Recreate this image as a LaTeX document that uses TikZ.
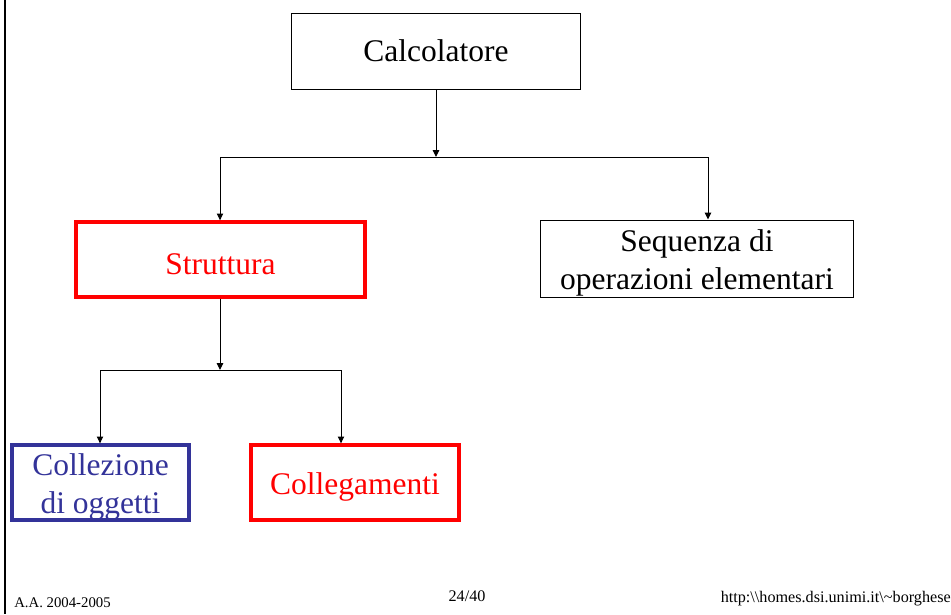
\documentclass[tikz,border=0pt]{standalone}
\usepackage{fontspec}
\setmainfont{Liberation Serif}
\usepackage{tikz}
\usetikzlibrary{positioning}
\usetikzlibrary{calc}
\usetikzlibrary{arrows.meta}
\definecolor{slideblue}{rgb}{0.2,0.2,0.6}
\definecolor{slidered}{rgb}{1,0,0}
\newcommand{\lift}[1]{\rule{0pt}{#1}}
\begin{document}
\begin{tikzpicture}[x=0.025cm, y=-0.025cm]

% Define styles for different elements
\tikzstyle{plain} = [rectangle, minimum height=1.9cm, text centered, align=center, draw=black, line width=0.7pt, font=\fontsize{22.4}{26.5}\selectfont]
\tikzstyle{redbox} = [plain, draw=slidered, text=slidered, line width=2.4pt]
\tikzstyle{bluebox} = [plain, draw=slideblue, text=slideblue, line width=2.4pt]
\tikzstyle{arrow} = [line width=0.7pt, -{Triangle[length=1.7mm,width=1.6mm]}]
\tikzstyle{footer} = [inner sep=0pt, font=\fontsize{10.5}{12}\selectfont]

\useasboundingbox (0,0) rectangle (951,614);
\draw[line width=1.8pt] (5,0) -- (5,614);

% Draw the nodes
\node (calc) [plain, minimum width=7.2cm] at (436,51) {Calcolatore};
\node (strut) [redbox, minimum width=7.225cm, minimum height=1.875cm] at (220.5,259.5) {\lift{0.75cm}Struttura};
\node (seq) [plain, inner ysep=0pt, minimum width=7.8cm, minimum height=1.925cm] at (697,258.5) {\lift{0.77cm}Sequenza di\\operazioni elementari};
\node (coll) [bluebox, inner ysep=0pt, minimum width=4.425cm, minimum height=1.875cm] at (100.5,482.5) {\lift{0.77cm}Collezione\\di oggetti};
\node (colleg) [redbox, minimum width=5.2cm, minimum height=1.875cm] at (355,482.5) {\lift{0.75cm}Collegamenti};

\coordinate (j1) at (436,157);
\coordinate (j2) at (220,370);

% Draw the arrows
\draw [arrow] (calc.south) -- (j1);
\draw [arrow] (j1) -| ([xshift=-0.0125cm]strut.north);
\draw [arrow] (j1) -| ([xshift=0.275cm]seq.north);
\draw [arrow] (strut.south -| j2) -- (j2);
\draw [arrow] (j2) -| ([xshift=-0.0125cm]coll.north);
\draw [arrow] (j2) -| ([xshift=-0.35cm]colleg.north);

% Add footer text
\node (year) [footer, anchor=base west] at (14,607) {A.A. 2004-2005};
\node (page) [footer, anchor=base] at (467,601) {\fontsize{11.5}{13}\selectfont 24/40};
\node (url) [footer, anchor=base east] at (951,602) {\fontsize{11.5}{13}\selectfont http:\textbackslash\textbackslash homes.dsi.unimi.it\textbackslash{\char"7E}borghese};
\end{tikzpicture}
\end{document}
